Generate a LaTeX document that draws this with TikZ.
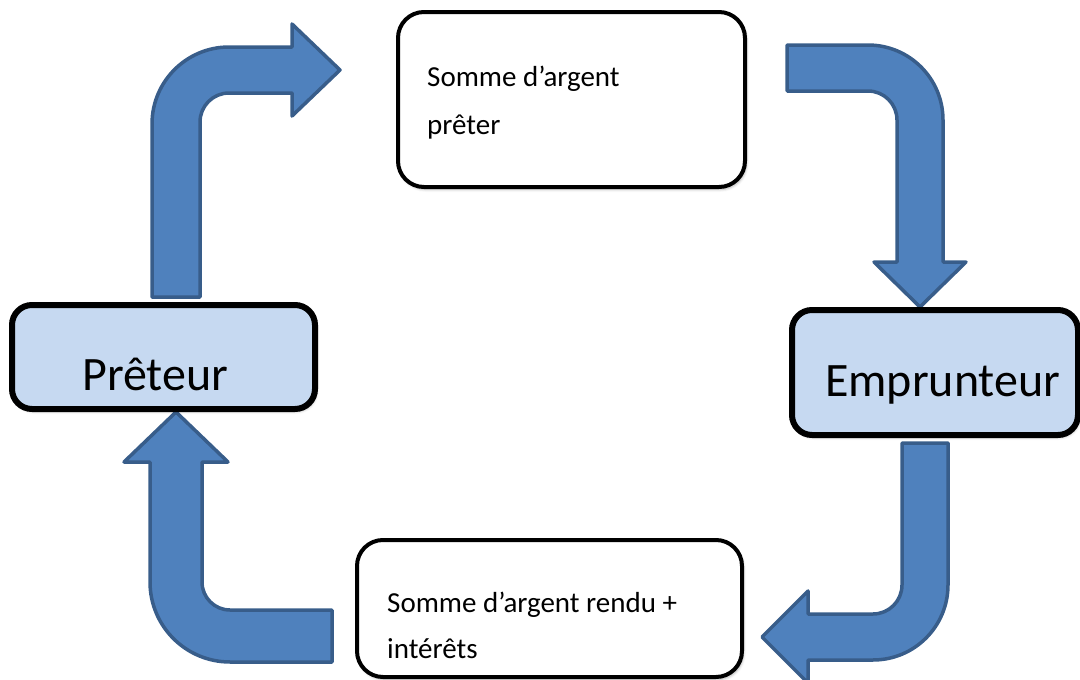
\documentclass[tikz,border=0pt]{standalone}
\usepackage{fontspec}
\setmainfont{Carlito}
\usetikzlibrary{shadows.blur}
\definecolor{arrowfill}{HTML}{4F81BD}
\definecolor{arrowline}{HTML}{385D8A}
\definecolor{rolefill}{HTML}{C6D9F1}
\tikzset{
  bentarrow/.style={fill=arrowfill, draw=arrowline, line width=3.5pt, line join=round},
  softshadow/.style={blur shadow={shadow xshift=1.5pt, shadow yshift=-2.5pt, shadow blur radius=2.5pt, shadow opacity=30}},
  notebox/.style={draw=black, fill=white, line width=4pt, rounded corners=26pt, softshadow},
  rolebox/.style={draw=black, fill=rolefill, line width=6pt, rounded corners=20pt, softshadow},
  notetext/.style={anchor=base west, inner sep=0pt, align=left, font=\fontsize{29}{48}\selectfont},
  roletext/.style={anchor=base west, inner sep=0pt, font=\fontsize{48}{56}\selectfont},
}
\begin{document}
\begin{tikzpicture}[x=1pt,y=-1pt]
\useasboundingbox (0,0) rectangle (1080,680);

% bent block arrows forming the loop
\draw[bentarrow] (152,297) -- (152,124) arc[start angle=180,end angle=270,radius=77]
  -- (292,47) -- (292,24) -- (340,70) -- (292,116) -- (292,93) -- (229,93)
  arc[start angle=270,end angle=180,radius=29] -- (200,297) -- cycle;

\draw[bentarrow] (787,45) -- (868,45) arc[start angle=270,end angle=360,radius=75]
  -- (943,262) -- (966,262) -- (920,307) -- (874,262) -- (897,262) -- (897,120)
  arc[start angle=0,end angle=-90,radius=29] -- (787,91) -- cycle;

\draw[bentarrow] (902,443) -- (948,443) -- (948,585) arc[start angle=0,end angle=90,radius=75]
  -- (808,660) -- (808,683) -- (762,637) -- (808,591) -- (808,614) -- (873,614)
  arc[start angle=90,end angle=0,radius=29] -- cycle;

\draw[bentarrow] (332,610) -- (230,610) arc[start angle=90,end angle=180,radius=28]
  -- (202,462) -- (228,462) -- (176,412) -- (124,462) -- (150,462) -- (150,582)
  arc[start angle=180,end angle=90,radius=80] -- (332,662) -- cycle;

% boxes (text nodes are placed by the baseline of their last line)
\path[notebox] (398,12) rectangle (745,187);
\node[notetext] (pret) at (427,134) {Somme d’argent\\prêter};

\path[notebox] (357,540) rectangle (742,677);
\node[notetext, font=\fontsize{29}{46}\selectfont] (rendu) at (387,658) {Somme d’argent rendu +\\intérêts};

\path[rolebox] (12,305) rectangle (315,409);
\node[roletext] (preteur) at (82,390) {Prêteur};

\path[rolebox] (792,310) rectangle (1078,435);
\node[roletext] (emprunteur) at (825,396) {Emprunteur};
\end{tikzpicture}
\end{document}
